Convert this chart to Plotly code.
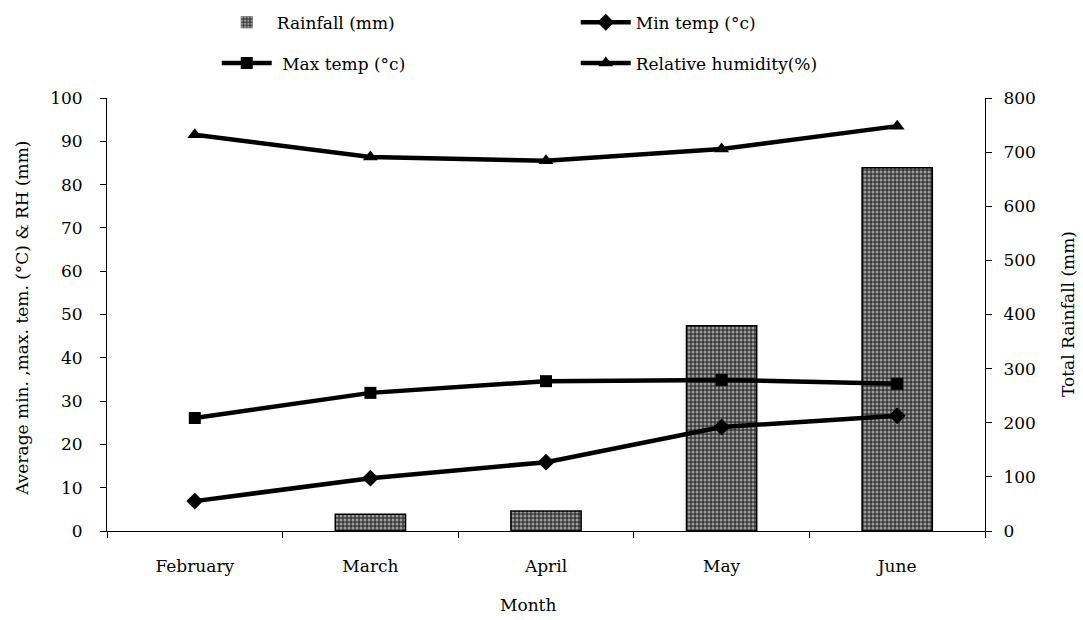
import plotly.graph_objects as go

months = ["February", "March", "April", "May", "June"]
rainfall_mm = [0, 31, 37, 379, 671]
min_temp = [6.9, 12.2, 15.9, 24.0, 26.6]
max_temp = [26.1, 31.9, 34.6, 34.9, 34.0]
rel_humidity = [91.5, 86.4, 85.5, 88.2, 93.5]

FONT = "DejaVu Serif"
FS = 17

fig = go.Figure()

# February has no rainfall, so its bar gets no outline
bar_outline = [0 if v == 0 else 1.5 for v in rainfall_mm]

fig.add_trace(go.Bar(
    x=months, y=rainfall_mm, name="Rainfall (mm)", yaxis="y",
    marker=dict(color="#3a3a3a", line=dict(color="black", width=bar_outline),
                pattern=dict(shape=".", fgcolor="#ffffff", bgcolor="#3a3a3a",
                             size=4, solidity=0.45)),
    legend="legend",
))
fig.add_trace(go.Scatter(
    x=months, y=min_temp, name="Min temp (\u00b0c)", yaxis="y2",
    mode="lines+markers", line=dict(color="black", width=4.5),
    marker=dict(symbol="diamond", size=13, color="black"),
    legend="legend",
))
fig.add_trace(go.Scatter(
    x=months, y=max_temp, name=" Max temp (\u00b0c)", yaxis="y2",
    mode="lines+markers", line=dict(color="black", width=4.5),
    marker=dict(symbol="square", size=12, color="black"),
    legend="legend2",
))
fig.add_trace(go.Scatter(
    x=months, y=rel_humidity, name="Relative humidity(%)", yaxis="y2",
    mode="lines+markers", line=dict(color="black", width=4.5),
    marker=dict(symbol="triangle-up", size=13, color="black"),
    legend="legend2",
))

axis_common = dict(showline=True, linecolor="black", linewidth=1,
                   ticks="outside", tickcolor="black", ticklen=6,
                   showgrid=False, zeroline=False,
                   tickfont=dict(family=FONT, size=FS, color="black"))

legend_common = dict(orientation="h", xanchor="left", yanchor="middle",
                     entrywidth=294, entrywidthmode="pixels", itemwidth=50,
                     font=dict(family=FONT, size=FS, color="black"),
                     bgcolor="rgba(0,0,0,0)", tracegroupgap=0)

fig.update_layout(
    width=1083, height=620,
    margin=dict(l=107, r=98, t=98, b=89, autoexpand=False),
    paper_bgcolor="white", plot_bgcolor="white",
    font=dict(family=FONT, size=FS, color="black"),
    bargap=0.6,
    showlegend=True,
    xaxis=dict(**axis_common, type="category", tickson="boundaries",
               ticklabelstandoff=20),
    yaxis=dict(**axis_common, side="right", range=[0, 800], dtick=100,
               ticklabelstandoff=8),
    yaxis2=dict(**axis_common, side="left", overlaying="y", range=[0, 100],
                dtick=10, anchor="x", ticklabelstandoff=14),
    legend=dict(**legend_common, x=0.125, y=1.174),
    legend2=dict(**legend_common, x=0.125, y=1.08),
    annotations=[
        dict(text="Month", xref="paper", yref="paper", x=0.48, y=-0.17,
             xanchor="center", yanchor="middle", showarrow=False,
             font=dict(family=FONT, size=FS)),
        dict(text="Average min. ,max. tem. (\u00b0C) & RH (mm)", xref="paper",
             yref="paper", x=-0.0968, y=0.49, textangle=-90,
             xanchor="center", yanchor="middle", showarrow=False,
             font=dict(family=FONT, size=FS)),
        dict(text="Total Rainfall (mm)", xref="paper", yref="paper",
             x=1.094, y=0.5, textangle=-90, xanchor="center",
             yanchor="middle", showarrow=False,
             font=dict(family=FONT, size=FS)),
    ],
)

fig.write_html("out.html")
